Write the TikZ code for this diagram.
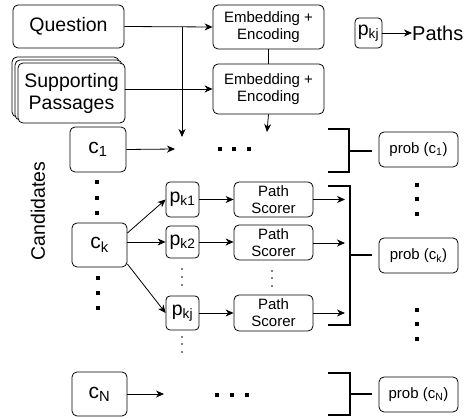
\documentclass[tikz,border=0pt]{standalone}
\usepackage{fontspec}
\setmainfont{Liberation Sans}
\usetikzlibrary{arrows.meta,calc}
\begin{document}
\begin{tikzpicture}[x=1pt,y=-1pt,
  box/.style={draw,rounded corners=5pt,line width=0.8pt,inner sep=0pt,align=center},
  smallbox/.style={draw,rounded corners=4pt,line width=0.8pt,inner sep=0pt,align=center},
  big/.style={font=\fontsize{19.5}{22}\selectfont},
  med/.style={font=\fontsize{15}{17}\selectfont},
  cfont/.style={font=\fontsize{21}{24}\selectfont},
  conn/.style={line width=0.8pt},
  arr/.style={conn,-{Stealth[length=8pt,width=7pt,inset=2.5pt]}},
  brk/.style={line width=2pt},
  sq/.style={fill=black,minimum size=4pt,inner sep=0pt},
  dt/.style={fill=black,circle,minimum size=1.8pt,inner sep=0pt}
]
\useasboundingbox (0,0) rectangle (469,419);
% top row
\node[box,big,minimum width=111pt,minimum height=43pt] (q) at (68.5,26.5) {Question};
\node[box,fill=white,minimum width=107pt,minimum height=60pt] (s3) at (65.5,87) {};
\node[box,fill=white,minimum width=107pt,minimum height=60pt] (s2) at (68.5,90) {};
\node[box,big,fill=white,minimum width=107pt,minimum height=60pt] (s) at (71.5,93) {Supporting\\Passages};
\node[box,med,minimum width=111pt,minimum height=44pt] (e1) at (268.5,27) {Embedding +\\Encoding};
\node[box,med,minimum width=111pt,minimum height=50pt] (e2) at (268.5,89) {Embedding +\\Encoding};
\node[smallbox,big,minimum width=27pt,minimum height=30pt] (leg) at (368.5,33) {p\textsubscript{kj}};
\node[anchor=west,inner sep=0pt,font=\fontsize{20}{22}\selectfont] (paths) at (412,33) {Paths};
\draw[arr] (leg.east) -- (paths.west);
\draw[arr] (q.east) -- (e1.west);
\draw[arr] (s.east |- e2.west) -- (e2.west);
\draw[conn] (e1.south) -- (e2.south |- e2.north);
\coordinate (qd) at (182,27);
\coordinate (qe) at (182,137);
\draw[arr] (qd) -- (qe);
\coordinate (ee) at (267,132);
\draw[arr] (e2.south) -- (ee);
% candidates
\node[rotate=90,big,inner sep=0pt] (cand) at (38,211) {Candidates};
\node[box,cfont,minimum width=56pt,minimum height=45pt] (c1) at (98,149.5) {c\textsubscript{1}};
\node[box,cfont,minimum width=55pt,minimum height=44pt] (ck) at (99.5,245) {c\textsubscript{k}};
\node[box,cfont,minimum width=55pt,minimum height=44pt] (cn) at (99.5,394) {c\textsubscript{N}};
\coordinate (c1e) at (175,149);
\draw[arr] (c1.east) -- (c1e);
\coordinate (cne) at (164,394);
\draw[arr] (cn.east) -- (cne);
% path boxes
\node[smallbox,big,minimum width=33pt,minimum height=35pt] (p1) at (182.5,199.5) {p\textsubscript{k1}};
\node[smallbox,big,minimum width=33pt,minimum height=32pt] (p2) at (182.5,242) {p\textsubscript{k2}};
\node[smallbox,big,minimum width=33pt,minimum height=34pt] (pj) at (182.5,313) {p\textsubscript{kj}};
\draw[arr] ($(ck.east)+(0,-12)$) -- (p1.west);
\draw[arr] (ck.east |- p2.west) -- (p2.west);
\draw[arr] ($(ck.east)+(0,19)$) -- (pj.west);
\node[box,med,minimum width=79pt,minimum height=35pt] (ps1) at (273.5,199.5) {Path\\Scorer};
\node[box,med,minimum width=79pt,minimum height=35pt] (ps2) at (273.5,242.5) {Path\\Scorer};
\node[box,med,minimum width=79pt,minimum height=36pt] (ps3) at (273.5,313) {Path\\Scorer};
\draw[arr] (p1.east) -- (ps1.west |- p1.east);
\draw[arr] (p2.east) -- (ps2.west |- p2.east);
\draw[arr] (pj.east) -- (ps3.west |- pj.east);
\coordinate (o1) at (345,199.5);
\coordinate (o2) at (345,243);
\coordinate (o3) at (345,313);
\draw[arr] (ps1.east) -- (o1);
\draw[arr] (ps2.east |- o2) -- (o2);
\draw[arr] (ps3.east) -- (o3);
% prob boxes
\node[box,med,minimum width=79pt,minimum height=35pt] (pr1) at (418.5,149.5) {prob (c\textsubscript{1})};
\node[box,med,minimum width=79pt,minimum height=35pt] (prk) at (418.5,255.5) {prob (c\textsubscript{k})};
\node[box,med,minimum width=79pt,minimum height=35pt] (prn) at (418.5,394.5) {prob (c\textsubscript{N})};
% brackets
\draw[brk] (328,129) -- (349,129) -- (349,172) -- (328,172);
\coordinate (t1) at (372,151);
\draw[brk] (349,151) -- (t1);
\draw[brk] (328,186) -- (350,186) -- (350,325) -- (328,325);
\coordinate (t2) at (372,255);
\draw[brk] (350,255) -- (t2);
\draw[brk] (328,373) -- (350,373) -- (350,415) -- (328,415);
\coordinate (t3) at (372,394);
\draw[brk] (350,394) -- (t3);
% square dots
\foreach \x/\y [count=\i] in {220/149,234/149,249/149,217/395,232/395,247/395,
  97/182,97/198,97/213,98/278,98/293,98/308,
  417/185,417/199,417/214,417/310,417/324,417/339}
  \node[sq] (sq\i) at (\x,\y) {};
% small vertical dots
\foreach \x/\y [count=\i] in {182/269,182/277,182/285,182/337,182/344,182/352,272/271,272/278,272/286}
  \node[dt] (d\i) at (\x,\y) {};
\end{tikzpicture}
\end{document}
